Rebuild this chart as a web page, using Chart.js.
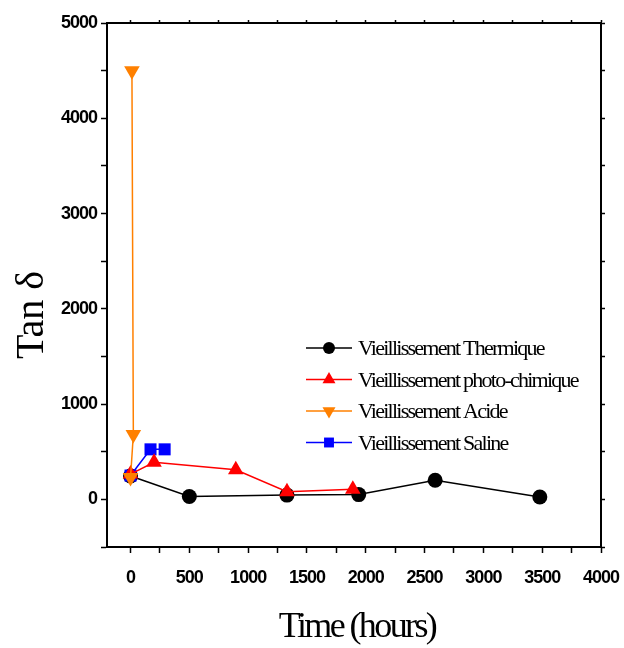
<!DOCTYPE html>
<html><head><meta charset="utf-8">
<script src="https://cdn.jsdelivr.net/npm/chart.js@4.4.1/dist/chart.umd.min.js"></script>
<style>html,body{margin:0;padding:0;background:#fff}canvas{display:block}</style>
</head><body>
<canvas id="c" width="624" height="648"></canvas>
<script>
// ---- data ----
const seriesNames = ["Vieillissement Thermique", "Vieillissement photo-chimique", "Vieillissement Acide", "Vieillissement Saline"];
const thermX = [0, 500, 1330, 1940, 2590, 3480];
const thermY = [245, 30, 45, 50, 200, 25];
const photoX = [0, 200, 895, 1330, 1890];
const photoY = [265, 390, 310, 80, 105];
const acideX = [0, 24, 12];
const acideY = [230, 680, 4500];
const salineX = [0, 170, 290];
const salineY = [250, 525, 525];
const xTickValues = [0, 250, 500, 750, 1000, 1250, 1500, 1750, 2000, 2250, 2500, 2750, 3000, 3250, 3500, 3750, 4000];
const xTickLabels = ["0", "", "500", "", "1000", "", "1500", "", "2000", "", "2500", "", "3000", "", "3500", "", "4000"];
const yTickValues = [-500, 0, 500, 1000, 1500, 2000, 2500, 3000, 3500, 4000, 4500, 5000];
const yTickLabels = ["", "0", "", "1000", "", "2000", "", "3000", "", "4000", "", "5000"];
const xTitle = "Time (hours)";
const yTitle = "Tan \u03b4";

const colors = ["#000000", "#ff0000", "#ff8000", "#0000ff"];
const pts = (xs, ys) => xs.map((x, i) => ({x: x, y: ys[i]}));

const datasets = [
  {label: seriesNames[0], data: pts(thermX, thermY), borderColor: colors[0], backgroundColor: colors[0],
   pointStyle: 'circle', pointRadius: 7.5, borderWidth: 1.5, order: 3},
  {label: seriesNames[1], data: pts(photoX, photoY), borderColor: colors[1], backgroundColor: colors[1],
   pointStyle: 'triangle', pointRadius: 9, borderWidth: 1.5, order: 1},
  {label: seriesNames[2], data: pts(acideX, acideY), borderColor: colors[2], backgroundColor: colors[2],
   pointStyle: 'triangle', pointRotation: 180, pointRadius: 9, borderWidth: 1.5, order: 0},
  {label: seriesNames[3], data: pts(salineX, salineY), borderColor: colors[3], backgroundColor: colors[3],
   pointStyle: 'rect', pointRadius: 8.5, borderWidth: 1.5, order: 2}
];
datasets.forEach(d => { d.showLine = true; d.fill = false; d.tension = 0; d.pointBorderWidth = 0; d.pointHoverRadius = d.pointRadius; });

const setTicks = vals => s => { s.ticks = vals.map(v => ({value: v})); };
const fixSize = (prop, val) => s => { s[prop] = val; s.paddingLeft = 0; s.paddingRight = 0; s.paddingTop = 0; s.paddingBottom = 0; };
const gridOpts = len => ({drawOnChartArea: false, drawTicks: true, tickLength: len, color: '#000', tickColor: '#000', tickWidth: 1.5});
const borderOpts = {display: true, color: '#000', width: 2};
const tickFont = {family: '"Liberation Sans", Arial, sans-serif', size: 18, weight: 'bold'};

const overlay = {
  id: 'overlay',
  beforeDraw(chart) { chart.ctx.letterSpacing = '-1px'; },
  afterDraw(chart) {
    const ctx = chart.ctx;
    // Y title
    ctx.save();
    ctx.letterSpacing = '0px';
    ctx.fillStyle = '#000';
    ctx.font = '40px "Liberation Serif", "Times New Roman", serif';
    ctx.translate(43, 315);
    ctx.rotate(-Math.PI / 2);
    ctx.textAlign = 'center';
    ctx.textBaseline = 'alphabetic';
    ctx.fillText(yTitle, 0, 0);
    ctx.restore();
    // X title
    ctx.save();
    ctx.letterSpacing = '-2.6px';
    ctx.fillStyle = '#000';
    ctx.font = '36px "Liberation Serif", "Times New Roman", serif';
    ctx.textAlign = 'center';
    ctx.textBaseline = 'alphabetic';
    ctx.fillText(xTitle, 357, 637);
    ctx.restore();
    // Legend
    const baselines = [355, 386.5, 418, 449.5];
    const legendR = [6, 7.5, 7.5, 7];
    chart.data.datasets.forEach((ds, i) => {
      const yb = baselines[i];
      const yl = yb - 7;
      ctx.save();
      ctx.strokeStyle = ds.borderColor;
      ctx.lineWidth = 1.5;
      ctx.beginPath(); ctx.moveTo(306, yl); ctx.lineTo(352, yl); ctx.stroke();
      ctx.fillStyle = ds.backgroundColor;
      Chart.helpers.drawPoint(ctx, {pointStyle: ds.pointStyle, rotation: ds.pointRotation || 0, radius: legendR[i], borderWidth: 0}, 329, yl);
      ctx.letterSpacing = '-1.75px';
      ctx.fillStyle = '#000';
      ctx.font = '22px "Liberation Serif", "Times New Roman", serif';
      ctx.textAlign = 'left';
      ctx.textBaseline = 'alphabetic';
      ctx.fillText(ds.label, 358, yb);
      ctx.restore();
    });
  }
};

new Chart(document.getElementById('c'), {
  type: 'scatter',
  data: {datasets: datasets},
  options: {
    responsive: false,
    animation: false,
    layout: {padding: 0},
    plugins: {legend: {display: false}, tooltip: {enabled: false}},
    scales: {
      x: {type: 'linear', position: 'bottom', min: -200, max: 4000,
          afterBuildTicks: setTicks(xTickValues),
          afterFit: fixSize('height', 101),
          grid: gridOpts(6), border: borderOpts,
          ticks: {color: '#000', font: tickFont, padding: 14, maxRotation: 0, autoSkip: false,
                  callback: (v, i) => xTickLabels[i]}},
      y: {type: 'linear', position: 'left', min: -500, max: 5000,
          afterBuildTicks: setTicks(yTickValues),
          afterFit: fixSize('width', 107),
          grid: gridOpts(6), border: borderOpts,
          ticks: {color: '#000', font: tickFont, padding: 4, autoSkip: false,
                  callback: (v, i) => yTickLabels[i]}},
      x2: {type: 'linear', position: 'top', min: -200, max: 4000, display: true,
           afterBuildTicks: setTicks(xTickValues),
           afterFit: fixSize('height', 23),
           grid: gridOpts(3), border: borderOpts, ticks: {display: false}},
      y2: {type: 'linear', position: 'right', min: -500, max: 5000, display: true,
           afterBuildTicks: setTicks(yTickValues),
           afterFit: fixSize('width', 23),
           grid: gridOpts(4), border: borderOpts, ticks: {display: false}}
    }
  },
  plugins: [overlay]
});
</script>
</body></html>
